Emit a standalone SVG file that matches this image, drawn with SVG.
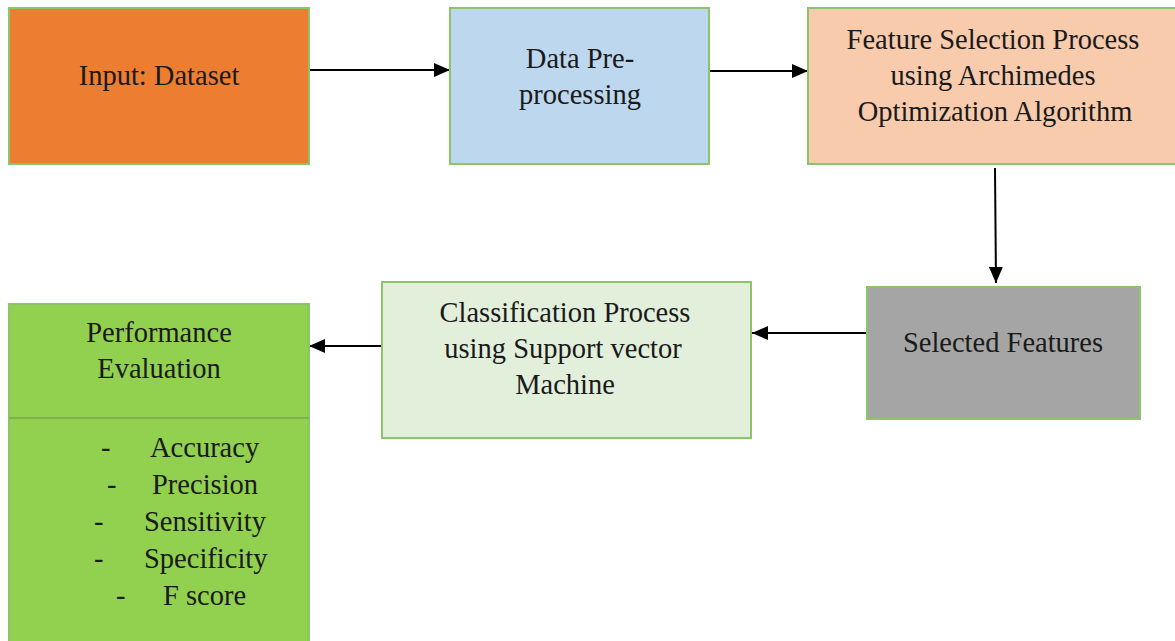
<svg xmlns="http://www.w3.org/2000/svg" width="1175" height="641" viewBox="0 0 1175 641">
<style>
.box{stroke:#8cc46a;stroke-width:2}
.t{font-family:"Liberation Serif","Times New Roman",serif;font-size:28.5px;fill:#1a1a1a;text-anchor:middle}
.l{font-family:"Liberation Serif","Times New Roman",serif;font-size:28.5px;fill:#1a1a1a}
.c{stroke:#000;stroke-width:2;fill:none;marker-end:url(#ah)}
</style>
<defs>
<marker id="ah" viewBox="0 0 16 14" refX="16" refY="7" markerWidth="16" markerHeight="14" markerUnits="userSpaceOnUse" orient="auto">
<path d="M0,0 L16,7 L0,14 Z" fill="#000"/>
</marker>
</defs>
<rect width="1175" height="641" fill="#fff"/>
<g id="connectors">
<line class="c" x1="309" y1="70" x2="450" y2="70"/>
<line class="c" x1="709" y1="71" x2="808" y2="71"/>
<line class="c" x1="995" y1="168" x2="996" y2="283"/>
<line class="c" x1="867" y1="333" x2="752" y2="333"/>
<line class="c" x1="382" y1="346" x2="309" y2="346"/>
</g>
<g id="input">
<rect class="box" x="9" y="8" width="300" height="156" fill="#ED7D31"/>
<text class="t" x="159" y="85">Input: Dataset</text>
</g>
<g id="preprocessing">
<rect class="box" x="450" y="8" width="259" height="156" fill="#BDD7EE"/>
<text class="t" x="580" y="68">Data Pre-</text>
<text class="t" x="580" y="104">processing</text>
</g>
<g id="feature-selection">
<rect class="box" x="808" y="8" width="372" height="156" fill="#F8CBAD"/>
<text class="t" x="993" y="49">Feature Selection Process</text>
<text class="t" x="993" y="85">using Archimedes</text>
<text class="t" x="995" y="121">Optimization Algorithm</text>
</g>
<g id="selected-features">
<rect class="box" x="867" y="287" width="273" height="132" fill="#A5A5A5"/>
<text class="t" x="1003" y="352">Selected Features</text>
</g>
<g id="classification">
<rect class="box" x="382" y="282" width="369" height="156" fill="#E2EFDA"/>
<text class="t" x="565" y="322">Classification Process</text>
<text class="t" x="563" y="358">using Support vector</text>
<text class="t" x="565" y="394">Machine</text>
</g>
<g id="performance">
<rect class="box" x="9" y="304" width="300" height="345" fill="#92D050"/>
<line x1="9" y1="418" x2="309" y2="418" stroke="#7aaa45" stroke-width="1.5"/>
<text class="t" x="159" y="342">Performance</text>
<text class="t" x="159" y="378">Evaluation</text>
<text class="l" x="101" y="457">-</text><text class="l" x="150" y="457">Accuracy</text>
<text class="l" x="107" y="494">-</text><text class="l" x="152" y="494">Precision</text>
<text class="l" x="94" y="531">-</text><text class="l" x="144" y="531">Sensitivity</text>
<text class="l" x="94" y="568">-</text><text class="l" x="144" y="568">Specificity</text>
<text class="l" x="116" y="605">-</text><text class="l" x="163" y="605">F score</text>
</g>
</svg>
